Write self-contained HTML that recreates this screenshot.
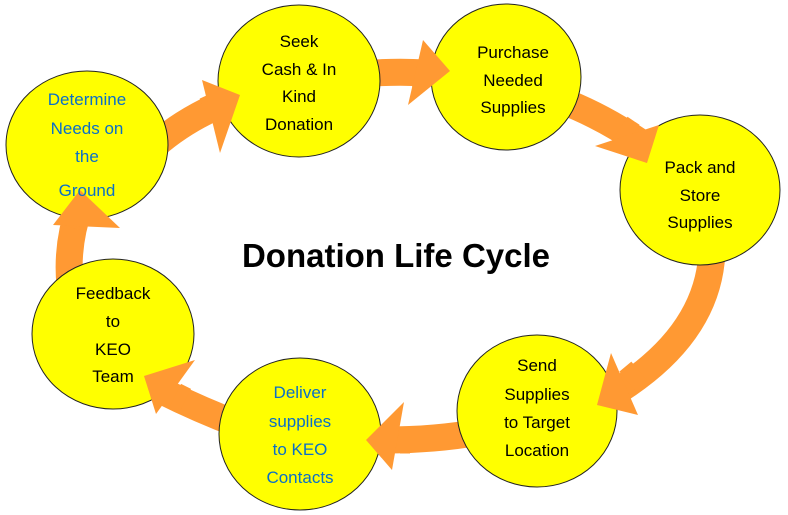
<!DOCTYPE html>
<html><head><style>body{margin:0;background:#fff}svg{display:block}
text{font-family:"Liberation Sans",sans-serif;font-size:17px;text-anchor:middle}
.b{fill:#0a6fc8}.k{fill:#000}</style></head><body>
<svg width="788" height="515" viewBox="0 0 788 515">
<g fill="none" stroke="#ff9933" stroke-width="27">
<path d="M150,150 Q180,122 222,104"/>
<path d="M360,74 Q395,71 425,73"/>
<path d="M560,100 Q600,115 640,142"/>
<path d="M712,240 Q715,330 616,392"/>
<path d="M480,432 Q435,440 385,440"/>
<path d="M240,425 Q200,410 160,390"/>
<path d="M70,285 Q66,245 80,205"/>
</g>
<g fill="#ffff00" stroke="#222" stroke-width="1">
<ellipse cx="87" cy="145" rx="81" ry="74"/>
<ellipse cx="299" cy="81" rx="81" ry="76"/>
<ellipse cx="506" cy="77" rx="75" ry="73"/>
<ellipse cx="700" cy="190" rx="80" ry="75"/>
<ellipse cx="537" cy="411" rx="80" ry="76"/>
<ellipse cx="300" cy="434" rx="81" ry="76"/>
<ellipse cx="113" cy="334" rx="81" ry="75"/>
</g>
<g fill="none" stroke="#ff9933" stroke-width="27">
<path d="M205,111 Q212,108 218,105"/>
<path d="M412,73 L420,73"/>
<path d="M620,128 L632,136"/>
<path d="M640,372 L628,382"/>
<path d="M410,440 L400,440"/>
<path d="M185,401 L175,396"/>
<path d="M73,228 L76,218"/>
</g>
<g fill="#ff9933">
<polygon points="202,80 240,95 220,153"/>
<polygon points="423,40 450,71 408,105"/>
<polygon points="659,125 647,163 595,146"/>
<polygon points="611,353 597,405 638,415"/>
<polygon points="404,402 366,440 392,470"/>
<polygon points="195,360 144,376 156,414"/>
<polygon points="53,225 80,190 120,228"/>
</g>
<g class="b"><text x="87" y="105">Determine</text><text x="87" y="134">Needs on</text><text x="87" y="162">the</text><text x="87" y="196">Ground</text></g>
<g class="k"><text x="299" y="47">Seek</text><text x="299" y="75">Cash &amp; In</text><text x="299" y="102">Kind</text><text x="299" y="130">Donation</text></g>
<g class="k"><text x="513" y="58">Purchase</text><text x="513" y="86">Needed</text><text x="513" y="113">Supplies</text></g>
<g class="k"><text x="700" y="173">Pack and</text><text x="700" y="201">Store</text><text x="700" y="228">Supplies</text></g>
<g class="k"><text x="537" y="371">Send</text><text x="537" y="400">Supplies</text><text x="537" y="428">to Target</text><text x="537" y="456">Location</text></g>
<g class="b"><text x="300" y="398">Deliver</text><text x="300" y="427">supplies</text><text x="300" y="455">to KEO</text><text x="300" y="483">Contacts</text></g>
<g class="k"><text x="113" y="299">Feedback</text><text x="113" y="327">to</text><text x="113" y="355">KEO</text><text x="113" y="382">Team</text></g>
<text x="396" y="267" style="font-size:33px;font-weight:bold">Donation Life Cycle</text>
</svg></body></html>
